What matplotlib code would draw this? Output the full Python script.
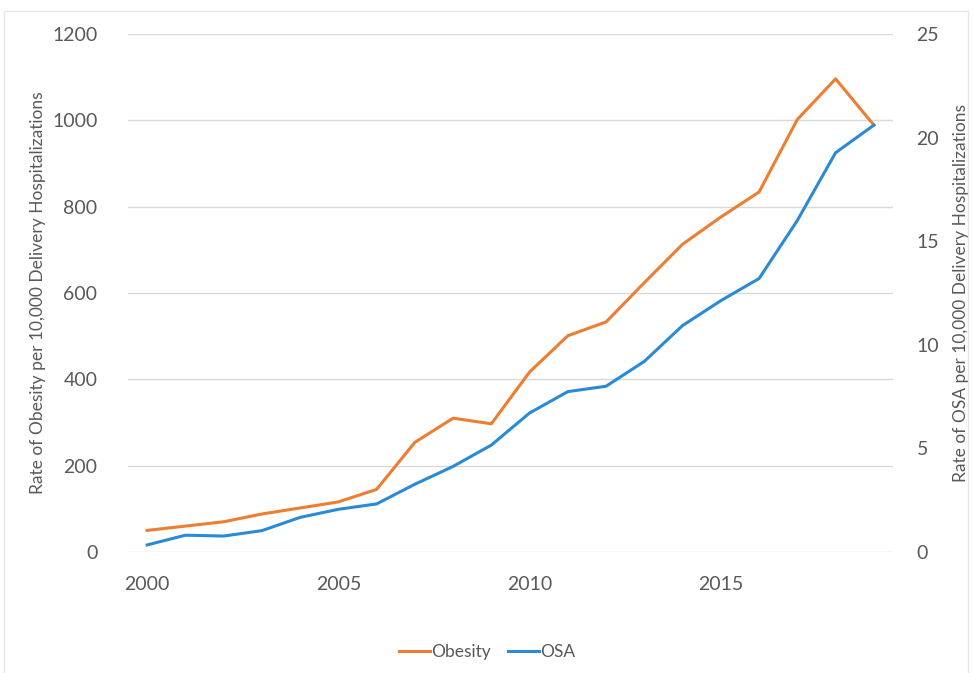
import matplotlib
matplotlib.use("Agg")
import matplotlib.pyplot as plt
from matplotlib.patches import Rectangle

plt.rcParams["font.family"] = ["Lato", "DejaVu Sans"]

years = list(range(2000, 2020))
obesity = [50, 60, 70, 88, 102, 116, 145, 254, 310, 297,
           417, 501, 533, 624, 713, 776, 834, 1002, 1096, 989]
osa = [0.34, 0.81, 0.77, 1.03, 1.67, 2.06, 2.32, 3.27, 4.13, 5.16,
       6.71, 7.74, 8.0, 9.2, 10.93, 12.13, 13.2, 16.0, 19.27, 20.6]

ORANGE = "#ED7D31"
BLUE = "#2A8AD6"
GRIS_TXT = "#595959"
GRIS_GRID = "#D9D9D9"

fig = plt.figure(figsize=(9.74, 6.73), dpi=100)
ax = fig.add_axes([0.1314, 0.1798, 0.7854, 0.7697])
ax2 = ax.twinx()

ax.plot(years, obesity, color=ORANGE, lw=2.2, label="Obesity", zorder=3)
ax2.plot(years, osa, color=BLUE, lw=2.2, label="OSA", zorder=3)

ax.set_xlim(1999.5, 2019.5)
ax.set_ylim(0, 1200)
ax2.set_ylim(0, 25)
ax.set_xticks([2000, 2005, 2010, 2015])
ax.set_yticks(range(0, 1201, 200))
ax2.set_yticks(range(0, 26, 5))

ax.grid(axis="y", color=GRIS_GRID, lw=1.0)
ax.set_axisbelow(True)
for a in (ax, ax2):
    for s in a.spines.values():
        s.set_visible(False)
    a.tick_params(length=0, labelsize=14, labelcolor=GRIS_TXT)
ax.tick_params(axis="x", pad=17)
ax.tick_params(axis="y", pad=22)
ax2.tick_params(axis="y", pad=17)

ax.set_ylabel("Rate of Obesity per 10,000 Delivery Hospitalizations",
              fontsize=12.5, color=GRIS_TXT, labelpad=4)
ax2.set_ylabel("Rate of OSA per 10,000 Delivery Hospitalizations",
               fontsize=12.5, color=GRIS_TXT, labelpad=10)

h1, l1 = ax.get_legend_handles_labels()
h2, l2 = ax2.get_legend_handles_labels()
fig.legend(h1 + h2, l1 + l2, loc="center", bbox_to_anchor=(0.5, 0.031),
           ncol=2, frameon=False, fontsize=12.5, handlelength=1.8,
           handletextpad=0.05, columnspacing=1.0, labelcolor=GRIS_TXT)

# borde del área del gráfico
fig.patches.append(Rectangle((0.004, -0.01), 0.99, 0.993, transform=fig.transFigure,
                             fill=False, ec="#E6E6E6", lw=1.0))

fig.savefig("out.png", dpi=100)
